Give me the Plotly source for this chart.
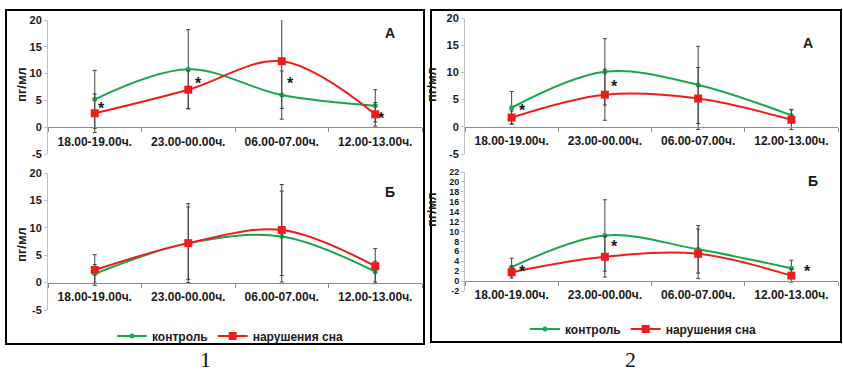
import plotly.graph_objects as go

W, H = 843, 371

categories = ["18.00-19.00ч.", "23.00-00.00ч.", "06.00-07.00ч.", "12.00-13.00ч."]

# Panel 1, chart А
p1a_control = [5.2, 10.8, 6.0, 4.0]
p1a_control_err = [5.4, 7.4, 4.5, 3.0]
p1a_sleep = [2.6, 7.0, 12.3, 2.4]
p1a_sleep_err = [3.6, 3.5, 8.8, 2.2]
# Panel 1, chart Б
p1b_control = [1.6, 7.2, 8.4, 2.0]
p1b_control_err = [1.7, 6.6, 8.3, 1.9]
p1b_sleep = [2.3, 7.2, 9.6, 3.0]
p1b_sleep_err = [2.8, 7.2, 8.3, 3.2]
# Panel 2, chart А
p2a_control = [3.5, 10.1, 7.7, 2.1]
p2a_control_err = [3.0, 6.1, 7.1, 1.1]
p2a_sleep = [1.7, 5.9, 5.2, 1.3]
p2a_sleep_err = [1.2, 4.7, 5.7, 1.8]
# Panel 2, chart Б
p2b_control = [2.8, 9.2, 6.4, 2.6]
p2b_control_err = [1.8, 7.2, 4.8, 1.6]
p2b_sleep = [1.8, 4.9, 5.5, 1.1]
p2b_sleep_err = [1.2, 4.1, 5.0, 1.3]

# y tick values
yticks_20 = [-5, 0, 5, 10, 15, 20]
yticks_22 = [-2, 0, 2, 4, 6, 8, 10, 12, 14, 16, 18, 20, 22]

# asterisk positions (category index, value)
p1a_stars = [(0.07, 4.1), (1.11, 8.8), (2.09, 8.8), (3.07, 2.2)]
p2a_stars = [(0.12, 3.5), (1.1, 7.9)]
p2b_stars = [(0.12, 2.6), (1.1, 7.5), (3.17, 2.6)]

GREEN = "#1aa64a"
RED = "#ee1c1c"
ERRC = "#404040"
FONT = "Liberation Sans, Arial, sans-serif"


def fx(p):
    return p / W


def fy(p):
    return 1 - p / H


# subplot geometry in pixels
subs = [
    dict(x0=48, x1=422, ytop=20, ybot=154, ymin=-5, ymax=20, ticks=yticks_20, tfs=11),
    dict(x0=48, x1=422, ytop=173, ybot=310, ymin=-5, ymax=20, ticks=yticks_20, tfs=11),
    dict(x0=465, x1=838, ytop=18, ybot=154, ymin=-5, ymax=20, ticks=yticks_20, tfs=11),
    dict(x0=465, x1=838, ytop=172, ybot=291, ymin=-2, ymax=22, ticks=yticks_22, tfs=9),
]

data_sets = [
    (p1a_control, p1a_control_err, p1a_sleep, p1a_sleep_err, None),
    (p1b_control, p1b_control_err, p1b_sleep, p1b_sleep_err, "legend"),
    (p2a_control, p2a_control_err, p2a_sleep, p2a_sleep_err, None),
    (p2b_control, p2b_control_err, p2b_sleep, p2b_sleep_err, "legend2"),
]

fig = go.Figure()
layout = {}
for i, (s, d) in enumerate(zip(subs, data_sets)):
    n = "" if i == 0 else str(i + 1)
    xa, ya = "x" + n, "y" + n
    ctrl, ctrl_e, slp, slp_e, leg = d
    show = leg is not None
    fig.add_trace(go.Scatter(
        x=categories, y=ctrl, xaxis=xa, yaxis=ya, name="контроль",
        mode="lines+markers", line=dict(color=GREEN, width=2, shape="spline", smoothing=1),
        marker=dict(color=GREEN, size=5, symbol="circle"),
        error_y=dict(type="data", array=ctrl_e, color=ERRC, thickness=1, width=2),
        showlegend=show, legend=leg if leg else "legend"))
    fig.add_trace(go.Scatter(
        x=categories, y=slp, xaxis=xa, yaxis=ya, name="нарушения сна",
        mode="lines+markers", line=dict(color=RED, width=2, shape="spline", smoothing=1),
        marker=dict(color=RED, size=8, symbol="square"),
        error_y=dict(type="data", array=slp_e, color=ERRC, thickness=1, width=2),
        showlegend=show, legend=leg if leg else "legend"))
    yd = [fy(s["ybot"]), fy(s["ytop"])]
    zero_pos = yd[0] + (0 - s["ymin"]) / (s["ymax"] - s["ymin"]) * (yd[1] - yd[0])
    layout["xaxis" + n] = dict(
        domain=[fx(s["x0"]), fx(s["x1"])], anchor="free", position=zero_pos,
        type="category", range=[-0.5, 3.5], showline=True, linecolor="#8c8c8c", linewidth=1,
        ticks="outside", tickson="boundaries", ticklen=4, tickcolor="#8c8c8c",
        showgrid=False, zeroline=False, ticklabelstandoff=3, tickangle=0, automargin=False,
        tickfont=dict(family=FONT, size=12, color="#1a1a1a", weight="bold"))
    layout["yaxis" + n] = dict(
        domain=yd, anchor=xa, range=[s["ymin"], s["ymax"]],
        tickmode="array", tickvals=s["ticks"], ticktext=[str(v) for v in s["ticks"]],
        showline=True, linecolor="#c0c0c0", linewidth=1, ticks="outside", ticklen=3,
        tickcolor="#c0c0c0", showgrid=False, zeroline=False, automargin=False,
        tickfont=dict(family=FONT, size=s["tfs"], color="#1a1a1a", weight="bold"))

annotations = []
for (sx, sy), xa, ya in [(s, "x", "y") for s in p1a_stars] + \
        [(s, "x3", "y3") for s in p2a_stars] + [(s, "x4", "y4") for s in p2b_stars]:
    annotations.append(dict(x=sx, y=sy, xref=xa, yref=ya, text="<b>*</b>", showarrow=False,
                            yshift=-3, font=dict(family=FONT, size=16, color="#1a1a1a")))

for txt, px, py in [("А", 390, 33), ("Б", 390, 192), ("А", 808, 43), ("Б", 813, 181)]:
    annotations.append(dict(x=fx(px), y=fy(py), xref="paper", yref="paper", text="<b>" + txt + "</b>",
                            xanchor="center", yanchor="middle",
                            showarrow=False, font=dict(family=FONT, size=14, color="#1a1a1a")))

for px, py in [(21, 85), (21, 245), (431, 85), (431, 210)]:
    annotations.append(dict(x=fx(px), y=fy(py), xref="paper", yref="paper", text="<b>пг/мл</b>",
                            textangle=-90, showarrow=False, xanchor="center", yanchor="middle",
                            font=dict(family=FONT, size=13, color="#1a1a1a")))

for txt, px in [("1", 205), ("2", 630)]:
    annotations.append(dict(x=fx(px), y=fy(359), xref="paper", yref="paper", text=txt,
                            xanchor="center", yanchor="middle",
                            showarrow=False, font=dict(family="Liberation Serif, serif", size=22, color="#111")))

shapes = [
    dict(type="rect", xref="paper", yref="paper", x0=fx(6), x1=fx(424), y0=fy(344), y1=fy(10),
         line=dict(color="black", width=2)),
    dict(type="rect", xref="paper", yref="paper", x0=fx(431), x1=fx(841), y0=fy(342), y1=fy(10),
         line=dict(color="black", width=2)),
]

legfont = dict(family=FONT, size=12, color="#1a1a1a", weight="bold")
fig.update_layout(
    width=W, height=H, margin=dict(l=0, r=0, t=0, b=0, autoexpand=False),
    paper_bgcolor="white", plot_bgcolor="white",
    showlegend=True,
    legend=dict(orientation="h", x=fx(230), y=fy(336), xanchor="center", yanchor="middle",
                font=legfont, bgcolor="rgba(0,0,0,0)", itemwidth=30, tracegroupgap=0),
    legend2=dict(orientation="h", x=fx(643), y=fy(329), xanchor="center", yanchor="middle",
                 font=legfont, bgcolor="rgba(0,0,0,0)", itemwidth=30, tracegroupgap=0),
    annotations=annotations, shapes=shapes,
    **layout,
)

fig.write_html("out.html", config={"displayModeBar": False},
               post_script="document.body.style.margin='0';document.body.style.overflow='hidden';")
